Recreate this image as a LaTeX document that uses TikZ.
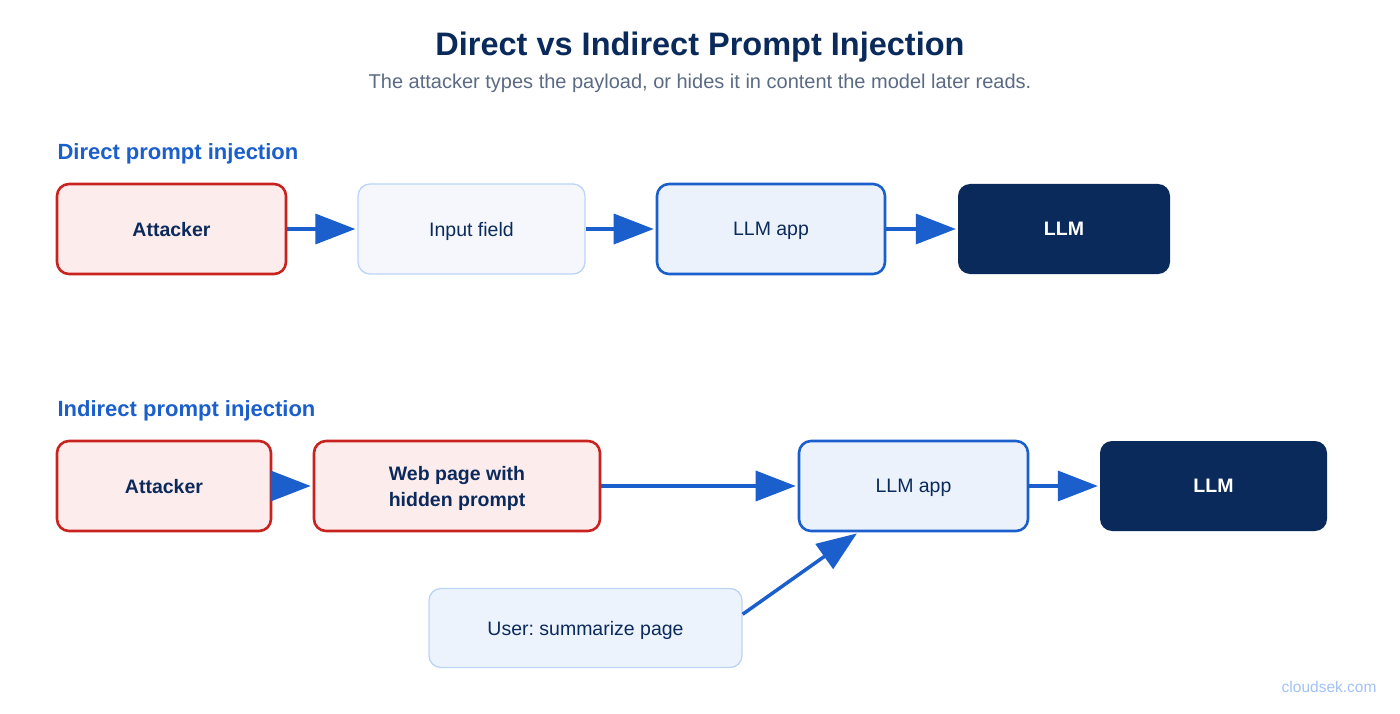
\documentclass[tikz,border=0pt]{standalone}
\usepackage{fontspec}
\setmainfont{Liberation Sans}
\usepackage{tikz}
\usetikzlibrary{calc, arrows.meta, positioning}

\definecolor{navy}{HTML}{0B2A5C}
\definecolor{linkblue}{HTML}{1A5FCC}
\definecolor{subgray}{HTML}{5B6B84}
\definecolor{redline}{HTML}{C8231E}
\definecolor{redfill}{HTML}{FDECEC}
\definecolor{paleline}{HTML}{BCD4F6}
\definecolor{palefill}{HTML}{F5F7FC}
\definecolor{appfill}{HTML}{EBF2FC}
\definecolor{userfill}{HTML}{EDF3FC}
\definecolor{markblue}{HTML}{A2C2F6}

\tikzset{
    box/.style={rounded corners=12pt, minimum height=90pt, inner sep=0pt, align=center,
        font=\fontsize{19.5}{26}\selectfont, text=navy, text depth=0pt},
    attackbox/.style={box, draw=redline, fill=redfill, line width=2.6pt, font=\fontsize{19.5}{26}\selectfont\bfseries},
    inputbox/.style={box, draw=paleline, fill=palefill, line width=1.3pt},
    appbox/.style={box, draw=linkblue, fill=appfill, line width=2.6pt},
    modelbox/.style={box, fill=navy, text=white, font=\fontsize{19.5}{26}\selectfont\bfseries},
    flow/.style={draw=linkblue, line width=3.5pt, -{Triangle[length=40pt, width=30pt]}, shorten >=2pt},
    heading/.style={anchor=west, text=linkblue, font=\fontsize{22}{26}\selectfont\bfseries}
}

\begin{document}
\frenchspacing
\begin{tikzpicture}[x=1pt, y=-1pt]
    \fill[white] (0,0) rectangle (1400,714);
    \useasboundingbox (0,0) rectangle (1400,714);

    \node[text=navy, font=\fontsize{32.5}{38}\selectfont\bfseries] (title) at (700,47) {Direct vs Indirect Prompt Injection};
    \node[text=subgray, font=\fontsize{20}{24}\selectfont] (subtitle) at (700,83) {The attacker types the payload, or hides it in content the model later reads.};

    \node[heading] (direct) at (54,154) {Direct prompt injection};
    \node[attackbox, minimum width=229pt] (att1) at (171.5,229) {Attacker};
    \node[inputbox, minimum width=227pt] (inp) at (471.5,229) {Input field};
    \node[appbox, minimum width=228pt] (app1) at (771,229) {LLM app};
    \node[modelbox, minimum width=212pt] (llm1) at (1064,229) {LLM};

    \draw[flow] (att1) -- (inp);
    \draw[flow] (inp) -- (app1);
    \draw[flow] (app1) -- (llm1);

    \node[heading] (indirect) at (54,411) {Indirect prompt injection};
    \node[attackbox, minimum width=214pt] (att2) at (164,486) {Attacker};
    \node[attackbox, minimum width=286pt] (web) at (457,486) {Web page with\\hidden prompt};
    \node[appbox, minimum width=229pt] (app2) at (913.5,486) {LLM app};
    \node[modelbox, minimum width=227pt] (llm2) at (1213.5,486) {LLM};
    \node[inputbox, fill=userfill, minimum width=313pt, minimum height=79pt] (user) at (585.5,628) {User: summarize page};

    \draw[flow] (att2) -- (web);
    \draw[flow] (web) -- (app2);
    \draw[flow] (app2) -- (llm2);
    \draw[flow] (user.5) -- ($(app2.south)+(-55,0)$);

    \node[anchor=east, text=markblue, font=\fontsize{15.5}{18}\selectfont] (site) at (1380,687) {cloudsek.com};
\end{tikzpicture}
\end{document}
